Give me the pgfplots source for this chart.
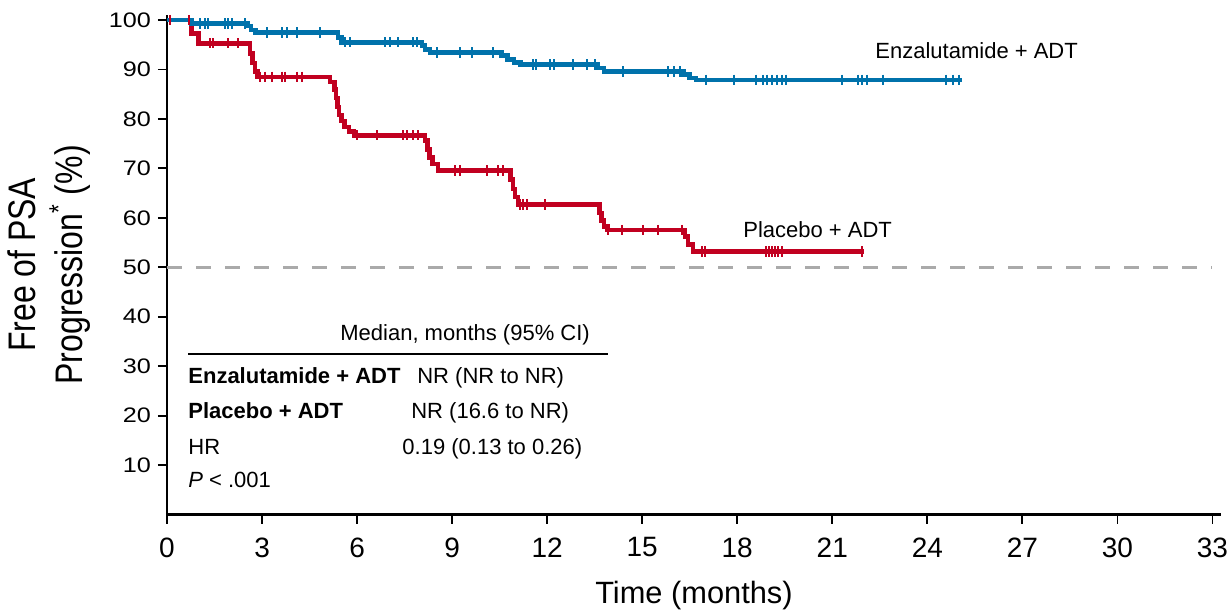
\documentclass[border=0pt]{standalone}
\usepackage{fontspec}
\setmainfont{Liberation Sans}
\newfontfamily\widefont[FakeStretch=1.2]{Liberation Sans}
\usepackage{pgfplots}
\pgfplotsset{compat=1.18}
\definecolor{enzblue}{RGB}{0,114,171}
\definecolor{plared}{RGB}{193,0,32}
\definecolor{refgray}{RGB}{170,170,170}

\pgfplotstableread{
t v
0 100
0.78 99.3
2.55 98.8
2.65 98.0
2.8 97.5
5.4 96.5
5.5 95.5
8.05 94.8
8.15 94.0
8.3 93.4
10.55 92.8
10.75 92.0
10.95 91.4
11.15 91.0
13.6 90.3
13.8 89.6
16.3 89.0
16.5 88.3
16.7 87.9
25.1 87.9
}\enzcurve

\pgfplotstableread{
t v
1.04 99.3
1.2 99.3
1.3 99.3
1.83 99.3
1.94 99.3
2.04 99.3
2.45 99.3
3.15 97.5
3.62 97.5
3.78 97.5
4.09 97.5
4.83 97.5
5.62 95.5
5.78 95.5
6.88 95.5
7.04 95.5
7.30 95.5
7.78 95.5
7.88 95.5
8.51 93.4
9.25 93.4
9.62 93.4
10.3 93.4
11.55 91.0
11.65 91.0
12.1 91.0
12.2 91.0
12.8 91.0
13.25 91.0
13.5 91.0
14.4 89.6
15.8 89.6
16.0 89.6
16.2 89.6
17.0 87.9
17.9 87.9
18.6 87.9
18.8 87.9
18.95 87.9
19.1 87.9
19.25 87.9
19.4 87.9
19.55 87.9
21.3 87.9
21.8 87.9
21.95 87.9
22.1 87.9
22.6 87.9
24.6 87.9
24.8 87.9
25.0 87.9
}\enzcens

\pgfplotstableread{
t v
0 100
0.78 97.3
1.0 95.3
2.62 93.2
2.7 91.3
2.78 89.6
2.85 88.5
5.15 87.5
5.28 86.0
5.33 84.2
5.38 82.4
5.43 80.8
5.5 79.6
5.6 78.4
5.75 77.4
5.9 76.7
8.15 75.6
8.22 73.8
8.28 72.2
8.38 70.9
8.55 69.6
10.85 67.8
10.92 65.8
10.98 64.2
11.08 62.7
13.65 61.0
13.72 59.5
13.8 58.2
13.9 57.5
16.35 56.2
16.45 54.6
16.6 53.2
22.0 53.2
}\placurve

\pgfplotstableread{
t v
0.1 100
0.7 100
1.36 95.3
1.45 95.3
1.93 95.3
2.24 95.3
2.94 88.5
3.09 88.5
3.30 88.5
3.62 88.5
3.72 88.5
4.09 88.5
4.25 88.5
5.99 76.7
6.62 76.7
7.46 76.7
7.57 76.7
7.78 76.7
7.93 76.7
9.09 69.6
9.25 69.6
10.09 69.6
10.46 69.6
10.62 69.6
11.14 62.7
11.24 62.7
11.35 62.7
11.93 62.7
13.92 57.5
14.35 57.5
15.03 57.5
15.51 57.5
16.25 57.5
16.88 53.2
16.98 53.2
18.9 53.2
19.0 53.2
19.1 53.2
19.2 53.2
19.3 53.2
19.4 53.2
21.93 53.2
}\placens

\begin{document}
\begin{tikzpicture}
\begin{axis}[
  name=ax,
  scale only axis,
  width=527pt, height=249.7pt,
  xmin=0, xmax=33.27, ymin=0, ymax=101,
  axis lines=left,
  axis line style={line width=1.3pt, -},
  xtick={0,3,...,33}, ytick={10,20,...,100},
  tick align=outside, major tick length=4.5pt,
  tick style={line width=0.9pt, black},
  /pgf/number format/assume math mode=true,
  xticklabel style={font=\fontsize{14}{16}\selectfont, yshift=-3.5pt},
  yticklabel style={font=\widefont\fontsize{10.5}{12}\selectfont},
  xlabel={Time (months)},
  xlabel style={font=\fontsize{15.4}{18}\selectfont, yshift=-5pt},
  ylabel={\scalebox{1}[1.2]{\fontsize{16}{19.2}\selectfont\begin{tabular}{@{}c@{}}Free of PSA\\Progression\textsuperscript{*} (\%)\end{tabular}}},
  every axis y label/.style={at={(axis description cs:-0.111,0.5)}, rotate=90, anchor=center},
  clip=false,
]
\addplot[refgray, line width=1.6pt, dash pattern=on 7.5pt off 7pt] coordinates {(0,50) (33,50)};
\addplot[const plot, plared, line width=2.3pt] table[x=t,y=v] {\placurve};
\addplot[only marks, mark=|, mark size=2.6pt, plared, mark options={line width=1pt}] table[x=t,y=v] {\placens};
\addplot[const plot, enzblue, line width=2.3pt] table[x=t,y=v] {\enzcurve};
\addplot[only marks, mark=|, mark size=2.6pt, enzblue, mark options={line width=1pt}] table[x=t,y=v] {\enzcens};

\node[anchor=base west, inner sep=0pt, font=\fontsize{11}{13}\selectfont] at (axis cs:22.35,92.25) {Enzalutamide + ADT};
\node[anchor=base west, inner sep=0pt, font=\fontsize{11}{13}\selectfont] at (axis cs:18.18,56.1) {Placebo + ADT};

\node[anchor=base west, inner sep=0pt, font=\fontsize{11}{13}\selectfont] at (axis cs:5.46,35.1) {Median, months (95\% CI)};
\draw[line width=1pt] (axis cs:0.663,32.46) -- (axis cs:13.92,32.46);
\node[anchor=base west, inner sep=0pt, font=\fontsize{11}{13}\selectfont\bfseries] at (axis cs:0.663,26.4) {Enzalutamide + ADT};
\node[anchor=base west, inner sep=0pt, font=\fontsize{11}{13}\selectfont] at (axis cs:7.89,26.4) {NR (NR to NR)};
\node[anchor=base west, inner sep=0pt, font=\fontsize{11}{13}\selectfont\bfseries] at (axis cs:0.663,19.5) {Placebo + ADT};
\node[anchor=base west, inner sep=0pt, font=\fontsize{11}{13}\selectfont] at (axis cs:7.70,19.5) {NR (16.6 to NR)};
\node[anchor=base west, inner sep=0pt, font=\fontsize{11}{13}\selectfont] at (axis cs:0.663,12.2) {HR};
\node[anchor=base west, inner sep=0pt, font=\fontsize{11}{13}\selectfont] at (axis cs:7.42,12.2) {0.19 (0.13 to 0.26)};
\node[anchor=base west, inner sep=0pt, font=\fontsize{11}{13}\selectfont] at (axis cs:0.663,5.36) {\textit{P} < .001};
\end{axis}
\pgfresetboundingbox
\path ([shift={(-83.5pt,-48.25pt)}]ax.south west) rectangle ([shift={(3pt,7.55pt)}]ax.north east);
\end{tikzpicture}
\end{document}
